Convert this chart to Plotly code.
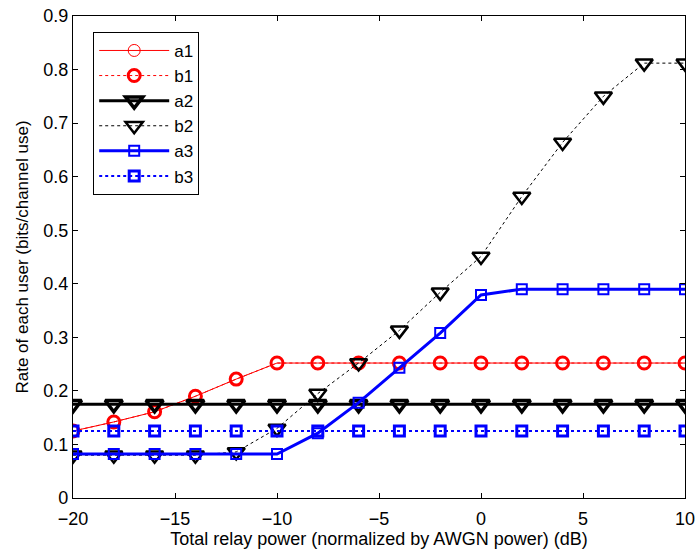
import plotly.graph_objects as go

x_db = [-20, -18, -16, -14, -12, -10, -8, -6, -4, -2, 0, 2, 4, 6, 8, 10]
a1 = [0.125, 0.142, 0.161, 0.19, 0.222, 0.252, 0.252, 0.252, 0.252, 0.252, 0.252, 0.252, 0.252, 0.252, 0.252, 0.252]
b1 = [0.125, 0.142, 0.161, 0.19, 0.222, 0.252, 0.252, 0.252, 0.252, 0.252, 0.252, 0.252, 0.252, 0.252, 0.252, 0.252]
a2 = [0.175] * 16
b2 = [0.08, 0.08, 0.08, 0.08, 0.086, 0.13, 0.195, 0.252, 0.313, 0.384, 0.451, 0.563, 0.664, 0.75, 0.812, 0.812]
a3 = [0.082, 0.082, 0.082, 0.082, 0.082, 0.082, 0.121, 0.178, 0.243, 0.308, 0.379, 0.39, 0.39, 0.39, 0.39, 0.39]
b3 = [0.125] * 16

FONT = "Liberation Sans, Arial, sans-serif"

series = [
    ("a1", a1, "red", "circle-open", 12, 1, 1, "solid"),
    ("b1", b1, "red", "circle-open", 12, 3, 1, "dot"),
    ("a2", a2, "black", "triangle-down-open", 15, 3.5, 3, "solid"),
    ("b2", b2, "black", "triangle-down-open", 15, 2.5, 1, "dot"),
    ("a3", a3, "blue", "square-open", 10, 2, 3, "solid"),
    ("b3", b3, "blue", "square-open", 10, 3, 2, "dot"),
]

fig = go.Figure()
for name, ys, col, sym, msize, mlw, lw, dash in series:
    fig.add_trace(go.Scatter(
        x=x_db, y=ys, name=name, mode="lines+markers", legendgroup=name,
        line=dict(color=col, width=lw, dash=dash),
        marker=dict(symbol=sym, size=msize, color=col, line=dict(width=mlw, color=col)),
    ))

axis_common = dict(
    showgrid=False, zeroline=False, showline=True, linecolor="black", linewidth=1.2,
    mirror="ticks", ticks="inside", ticklen=5, tickcolor="black", automargin=False,
    tickfont=dict(family=FONT, size=18, color="black"),
)

fig.update_layout(
    width=696, height=552,
    margin=dict(l=73, r=11, t=16, b=54),
    paper_bgcolor="white", plot_bgcolor="white",
    font=dict(family=FONT, size=17, color="black"),
    xaxis=dict(range=[-20, 10], tickvals=[-20, -15, -10, -5, 0, 5, 10],
               ticklabelstandoff=4,
               title=dict(text="Total relay power (normalized by AWGN power) (dB)",
                          font=dict(family=FONT, size=18), standoff=2),
               **axis_common),
    yaxis=dict(range=[0, 0.9], tickvals=[0, 0.1, 0.2, 0.3, 0.4, 0.5, 0.6, 0.7, 0.8, 0.9],
               ticktext=["0", "0.1", "0.2", "0.3", "0.4", "0.5", "0.6", "0.7", "0.8", "0.9"],
               title=dict(text="Rate of each user (bits/channel use)",
                          font=dict(family=FONT, size=17), standoff=10),
               **axis_common),
    legend=dict(x=0.033, y=0.967, xanchor="left", yanchor="top",
                bgcolor="white", bordercolor="black", borderwidth=1,
                font=dict(family=FONT, size=17), tracegroupgap=0,
                itemwidth=70),
    showlegend=True,
)

fig.write_html("out.html")
